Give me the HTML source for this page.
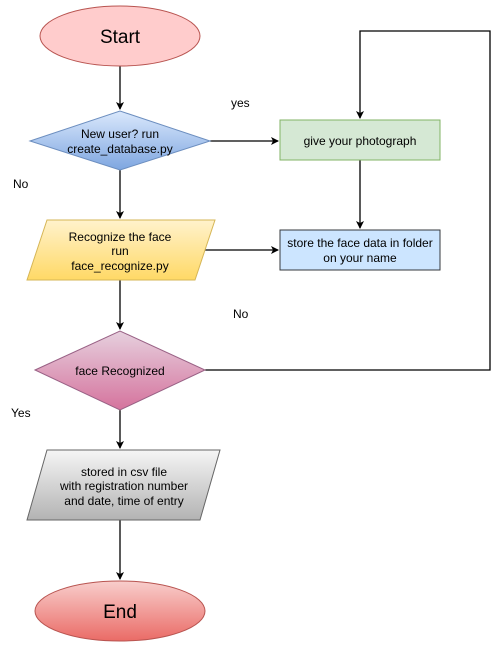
<!DOCTYPE html>
<html><head><style>body{margin:0;background:#fff}</style></head><body>
<svg width="492" height="651" xmlns="http://www.w3.org/2000/svg" font-family="Liberation Sans, Arial, sans-serif">
<defs>
<linearGradient id="gb" x1="0" y1="0" x2="0" y2="1"><stop offset="0" stop-color="#dae8fc"/><stop offset="1" stop-color="#7ea6e0"/></linearGradient>
<linearGradient id="gy" x1="0" y1="0" x2="0" y2="1"><stop offset="0" stop-color="#fff2cc"/><stop offset="1" stop-color="#ffd966"/></linearGradient>
<linearGradient id="gp" x1="0" y1="0" x2="0" y2="1"><stop offset="0" stop-color="#e6d0de"/><stop offset="1" stop-color="#d5739d"/></linearGradient>
<linearGradient id="gg" x1="0" y1="0" x2="0" y2="1"><stop offset="0" stop-color="#f5f5f5"/><stop offset="1" stop-color="#b3b3b3"/></linearGradient>
<linearGradient id="gr" x1="0" y1="0" x2="0" y2="1"><stop offset="0" stop-color="#f8cecc"/><stop offset="1" stop-color="#ea6b66"/></linearGradient>
<marker id="a" markerWidth="8" markerHeight="8" refX="7" refY="4" orient="auto" markerUnits="userSpaceOnUse"><path d="M0,0 L8,4 L0,8 L2,4 Z" fill="#000"/></marker>
</defs>
<g stroke="#000" stroke-width="1.3" fill="none">
<line x1="120" y1="66" x2="120" y2="109" marker-end="url(#a)"/>
<line x1="120" y1="170" x2="120" y2="218" marker-end="url(#a)"/>
<line x1="120" y1="280" x2="120" y2="329" marker-end="url(#a)"/>
<line x1="120" y1="410" x2="120" y2="448" marker-end="url(#a)"/>
<line x1="120" y1="520" x2="120" y2="579" marker-end="url(#a)"/>
<line x1="210" y1="141" x2="278" y2="141" marker-end="url(#a)"/>
<line x1="205" y1="250" x2="278" y2="250" marker-end="url(#a)"/>
<line x1="360" y1="160" x2="360" y2="228" marker-end="url(#a)"/>
<polyline points="205,370 490,370 490,31 360,31 360,118" marker-end="url(#a)"/>
</g>
<ellipse cx="120" cy="36" rx="80" ry="30" fill="#ffcccc" stroke="#b85450"/>
<text x="120" y="43" font-size="19" text-anchor="middle">Start</text>
<polygon points="30,141 120,111 210,141 120,170" fill="url(#gb)" stroke="#6c8ebf"/>
<text x="120" y="138" font-size="12" text-anchor="middle">New user? run</text>
<text x="120" y="153" font-size="12" text-anchor="middle">create_database.py</text>
<polygon points="47,220 215,220 195,280 27,280" fill="url(#gy)" stroke="#d6b656"/>
<text x="120" y="241" font-size="12" text-anchor="middle">Recognize the face</text>
<text x="120" y="255" font-size="12" text-anchor="middle">run</text>
<text x="120" y="270" font-size="12" text-anchor="middle">face_recognize.py</text>
<rect x="280" y="120" width="160" height="40" fill="#d5e8d4" stroke="#82b366"/>
<text x="360" y="145" font-size="12" text-anchor="middle">give your photograph</text>
<rect x="280" y="230" width="160" height="40" fill="#cce5ff" stroke="#36393d"/>
<text x="360" y="247" font-size="12" text-anchor="middle">store the face data in folder</text>
<text x="360" y="262" font-size="12" text-anchor="middle">on your name</text>
<polygon points="35,370 120,331 205,370 120,410" fill="url(#gp)" stroke="#996185"/>
<text x="120" y="375" font-size="12" text-anchor="middle">face Recognized</text>
<polygon points="47,450 220,450 200,520 27,520" fill="url(#gg)" stroke="#666"/>
<text x="124" y="476" font-size="12" text-anchor="middle">stored in csv file</text>
<text x="124" y="490" font-size="12" text-anchor="middle">with registration number</text>
<text x="124" y="505" font-size="12" text-anchor="middle">and date, time of entry</text>
<ellipse cx="120" cy="611" rx="85" ry="30" fill="url(#gr)" stroke="#b85450"/>
<text x="120" y="618" font-size="19" text-anchor="middle">End</text>
<g font-size="12">
<text x="231" y="107">yes</text>
<text x="13" y="188">No</text>
<text x="233" y="318">No</text>
<text x="11" y="417">Yes</text>
</g>
</svg>
</body></html>
